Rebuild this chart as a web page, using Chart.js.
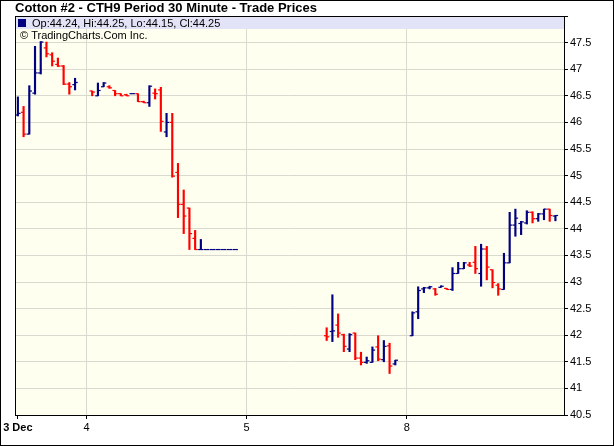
<!DOCTYPE html>
<html>
<head>
<meta charset="utf-8">
<title>Cotton #2 - CTH9 Period 30 Minute</title>
<script src="https://cdn.jsdelivr.net/npm/chart.js@4.4.1/dist/chart.umd.min.js"></script>
<style>
    html, body { margin: 0; padding: 0; background: #fff; }
    #wrap { width: 614px; height: 446px; }
</style>
</head>
<body>
<div id="wrap"><canvas id="myChart" width="614" height="446"></canvas></div>
<script>
// 30 minute bars. x is the bar slot on the session axis (28 slots per day)
const slots = [
    0, 1, 2, 3, 4, 5, 6, 7, 8, 9, 10,
    13, 14, 15, 16, 17, 18, 19, 20, 21, 22, 23, 24, 25, 26, 27, 28, 29, 30, 31, 32,
    33, 34, 35, 36, 37, 38,
    54, 55, 56, 57, 58, 59, 60, 61, 62, 63, 64, 65, 66,
    69, 70, 71, 72, 73, 74, 75, 76, 77, 78, 79, 80, 81, 82, 83, 84, 85, 86, 87, 88,
    89, 90, 91, 92, 93, 94
];
const opens = [
    46.14, 46.19, 45.78, 46.55, 46.93, 47.40, 47.27, 47.09, 47.06, 46.72, 46.71,
    46.59, 46.50, 46.67, 46.67, 46.60, 46.54, 46.52, 46.54, 46.54, 46.39, 46.37, 46.55, 46.61, 45.82, 46.00, 45.06, 44.46, 44.39, 43.82, 43.61,
    43.61, 43.61, 43.61, 43.61, 43.61, 43.61,
    41.99, 42.07, 42.19, 42.01, 41.74, 42.04, 41.57, 41.49, 41.49, 41.78, 41.54, 41.80, 41.46,
    41.99, 42.44, 42.87, 42.89, 42.87, 42.90, 42.88, 42.86, 43.16, 43.25, 43.32, 43.37, 43.16, 43.62, 43.23, 42.94, 42.86, 43.36, 44.07, 44.10,
    44.11, 44.31, 44.19, 44.28, 44.37, 44.24
];
const highs = [
    46.48, 46.30, 46.69, 47.43, 47.52, 47.51, 47.31, 47.21, 47.07, 46.75, 46.83,
    46.59, 46.74, 46.75, 46.69, 46.60, 46.54, 46.53, 46.54, 46.54, 46.40, 46.69, 46.63, 46.66, 46.17, 46.17, 45.23, 44.73, 44.39, 43.97, 43.80,
    43.61, 43.61, 43.61, 43.61, 43.61, 43.61,
    42.14, 42.76, 42.40, 42.02, 42.03, 42.04, 41.68, 41.59, 41.78, 41.99, 41.90, 41.85, 41.53,
    42.44, 42.91, 42.90, 42.92, 42.88, 42.93, 42.88, 43.27, 43.37, 43.37, 43.37, 43.67, 43.71, 43.67, 43.23, 42.97, 43.54, 44.31, 44.37, 44.14,
    44.34, 44.32, 44.29, 44.37, 44.37, 44.25
];
const lows = [
    46.12, 45.73, 45.78, 46.53, 46.91, 47.23, 47.06, 47.05, 46.71, 46.53, 46.61,
    46.50, 46.50, 46.67, 46.64, 46.50, 46.50, 46.50, 46.54, 46.39, 46.37, 46.30, 46.44, 45.83, 45.73, 44.97, 44.21, 43.91, 43.61, 43.61, 43.61,
    43.61, 43.61, 43.61, 43.61, 43.61, 43.61,
    41.90, 41.88, 41.96, 41.69, 41.69, 41.54, 41.44, 41.47, 41.49, 41.52, 41.50, 41.28, 41.44,
    41.99, 42.31, 42.80, 42.87, 42.75, 42.90, 42.86, 42.84, 43.16, 43.25, 43.29, 43.16, 42.92, 43.04, 42.89, 42.75, 42.86, 43.36, 43.86, 43.89,
    44.09, 44.11, 44.14, 44.17, 44.14, 44.15
];
const closes = [
    46.17, 45.78, 46.59, 46.93, 47.51, 47.29, 47.15, 47.06, 46.72, 46.67, 46.75,
    46.57, 46.60, 46.74, 46.65, 46.54, 46.50, 46.50, 46.54, 46.39, 46.37, 46.68, 46.54, 46.02, 46.00, 44.99, 44.46, 44.24, 43.91, 43.61, 43.61,
    43.61, 43.61, 43.61, 43.61, 43.61, 43.61,
    41.97, 42.08, 42.04, 41.79, 42.01, 41.57, 41.49, 41.52, 41.72, 41.55, 41.79, 41.42, 41.53,
    42.42, 42.84, 42.89, 42.91, 42.77, 42.92, 42.86, 43.16, 43.25, 43.36, 43.30, 43.25, 43.62, 43.28, 42.99, 42.87, 43.36, 44.07, 44.20, 44.13,
    44.31, 44.19, 44.28, 44.37, 44.25, 44.25
];

// x axis day labels and where they sit
const dayTicks = [0, 12, 40, 68];
const dayLabels = ["3 Dec", "4", "5", "8"];

const legendText = "Op:44.24, Hi:44.25, Lo:44.15, Cl:44.25";
const creditText = "\u00A9 TradingCharts.Com Inc.";
const titleText = "Cotton #2 - CTH9 Period 30 Minute - Trade Prices";

const UP = '#000080';
const DOWN = '#ff0000';
const FONT = '"Liberation Sans", Arial, sans-serif';

function colorFor(i) {
    return closes[i] >= opens[i] ? UP : DOWN;
}

// background, title, legend band and frame
const decorations = {
    id: 'decorations',
    beforeDraw(chart) {
        const { ctx, chartArea: a } = chart;
        ctx.save();
        ctx.fillStyle = '#ffffff';
        ctx.fillRect(0, 0, chart.width, chart.height);
        ctx.fillStyle = '#fffff0';
        ctx.fillRect(a.left, a.top, a.right - a.left, a.bottom - a.top);
        ctx.restore();
    },
    beforeDatasetsDraw(chart) {
        const { ctx, chartArea: a } = chart;
        ctx.save();
        // legend band
        ctx.fillStyle = '#e3e3f7';
        ctx.fillRect(a.left, a.top, a.right - a.left, 13);
        ctx.fillStyle = UP;
        ctx.fillRect(a.left + 3, a.top + 3, 8, 8);
        ctx.fillStyle = '#000';
        ctx.font = '11px ' + FONT;
        ctx.textBaseline = 'alphabetic';
        ctx.fillText(legendText, a.left + 17, a.top + 11);
        ctx.fillText(creditText, a.left + 5, a.top + 23);
        // plot frame
        ctx.strokeStyle = '#000';
        ctx.lineWidth = 1;
        ctx.strokeRect(a.left + 0.5, a.top + 0.5, a.right - a.left, a.bottom - a.top);
        // title
        ctx.font = 'bold 13px ' + FONT;
        ctx.fillText(titleText, 15, 12);
        // outer frame
        ctx.strokeRect(0.5, 0.5, chart.width - 1, chart.height - 1);
        ctx.restore();
    }
};

const ctx = document.getElementById('myChart').getContext('2d');

new Chart(ctx, {
    type: 'bar',
    data: {
        datasets: [
            {
                // high-low range
                type: 'bar',
                data: slots.map((s, i) => ({ x: s, y: [lows[i], highs[i]] })),
                backgroundColor: c => colorFor(c.dataIndex),
                barThickness: 1.5,
                grouped: false
            },
            {
                // open tick, left side
                type: 'scatter',
                data: slots.map((s, i) => ({ x: s, y: opens[i] })),
                pointStyle: 'dash',
                pointRotation: 180,
                pointRadius: 2.7,
                pointHoverRadius: 2.7,
                pointBorderWidth: 1.2,
                pointBorderColor: c => colorFor(c.dataIndex)
            },
            {
                // close tick, right side
                type: 'scatter',
                data: slots.map((s, i) => ({ x: s, y: closes[i] })),
                pointStyle: 'dash',
                pointRotation: 0,
                pointRadius: 2.7,
                pointHoverRadius: 2.7,
                pointBorderWidth: 1.2,
                pointBorderColor: c => colorFor(c.dataIndex)
            }
        ]
    },
    options: {
        responsive: false,
        animation: false,
        events: [],
        layout: { padding: { left: 15, top: 16, right: 0, bottom: 0 } },
        plugins: {
            legend: { display: false },
            tooltip: { enabled: false },
            title: { display: false }
        },
        scales: {
            x: {
                type: 'linear',
                min: -0.5,
                max: 95.5,
                offset: false,
                afterBuildTicks(s) { s.ticks = dayTicks.map(v => ({ value: v })); },
                afterFit(s) { s.height = 31; },
                ticks: {
                    autoSkip: false,
                    maxRotation: 0,
                    padding: 2,
                    color: '#000',
                    font: c => ({ family: FONT, size: 11, weight: c.index === 0 ? 'bold' : 'normal' }),
                    callback: v => dayLabels[dayTicks.indexOf(v)]
                },
                grid: {
                    offset: false,
                    color: c => (c.tick && c.tick.value === 0) ? 'rgba(0,0,0,0)' : '#d9d9cf',
                    tickColor: '#000',
                    tickLength: 4
                },
                border: { color: '#000' }
            },
            y: {
                position: 'right',
                min: 40.5,
                max: 48,
                afterFit(s) { s.width = 50; },
                ticks: {
                    stepSize: 0.5,
                    padding: 2,
                    color: '#000',
                    font: { family: FONT, size: 11 },
                    callback: v => v >= 48 ? '' : String(v)
                },
                grid: {
                    color: '#d9d9cf',
                    tickColor: '#000',
                    tickLength: 4
                },
                border: { color: '#000' }
            }
        }
    },
    plugins: [decorations]
});
</script>
</body>
</html>
